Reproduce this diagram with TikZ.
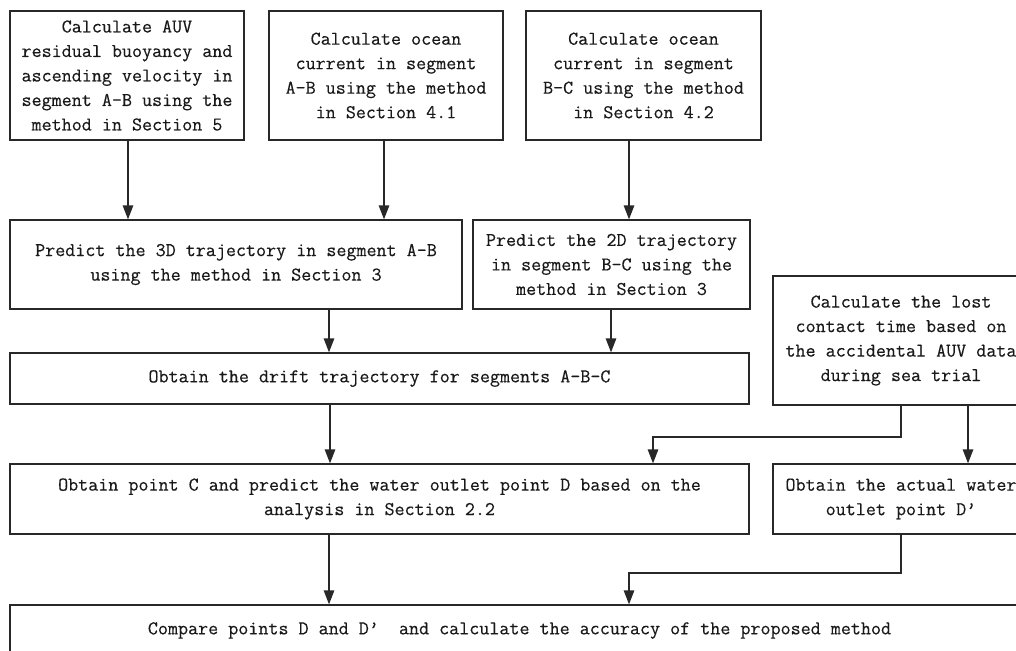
\documentclass[tikz,border=0pt]{standalone}
\usepackage{fontspec}
\setmonofont{Latin Modern Mono}[FakeBold=0.4]
\usetikzlibrary{arrows.meta,calc}
\definecolor{ln}{RGB}{40,40,40}
\definecolor{tx}{RGB}{25,25,25}
\begin{document}
\begin{tikzpicture}[x=1pt,y=-1pt,
  box/.style={draw=ln,line width=1.3pt,inner sep=0pt,align=center,text=tx,
    font=\ttfamily\fontsize{19.5}{24.5}\selectfont},
  arr/.style={draw=ln,line width=1.3pt,-{Triangle[length=14pt,width=10.5pt]}}]
\useasboundingbox (0,0) rectangle (1016,650);
\clip (0,0) rectangle (1016,650);
\node[box,minimum width=234pt,minimum height=129pt] (b1) at (127,75.5)
  {Calculate AUV\\residual buoyancy and\\ascending velocity in\\segment A-B using the\\method in Section 5};
\node[box,minimum width=234pt,minimum height=129pt] (b2) at (386,75.5)
  {Calculate ocean\\current in segment\\A-B using the method\\in Section 4.1};
\node[box,minimum width=235pt,minimum height=129pt] (b3) at (643.5,75.5)
  {Calculate ocean\\current in segment\\B-C using the method\\in Section 4.2};
\node[box,minimum width=452pt,minimum height=89pt] (b4) at (236,264.5)
  {Predict the 3D trajectory in segment A-B\\using the method in Section 3};
\node[box,minimum width=277pt,minimum height=89pt] (b5) at (611.5,264.5)
  {Predict the 2D trajectory\\in segment B-C using the\\method in Section 3};
\node[box,minimum width=256pt,minimum height=129pt] (b6) at (901,340.5)
  {Calculate the lost\\contact time based on\\the accidental AUV data\\during sea trial};
\node[box,minimum width=739pt,minimum height=51pt] (b7) at (379.5,378.5)
  {Obtain the drift trajectory for segments A-B-C};
\node[box,minimum width=739pt,minimum height=70pt] (b8) at (379.5,499)
  {Obtain point C and predict the water outlet point D based on the\\analysis in Section 2.2};
\node[box,minimum width=256pt,minimum height=70pt] (b9) at (901,499)
  {Obtain the actual water\\outlet point D’};
\node[box,minimum width=1019pt,minimum height=51pt] (b10) at (519.5,630.5)
  {Compare points D and D’\ \ and calculate the accuracy of the proposed method};
\coordinate (x128) at (128,0);
\coordinate (x384) at (384,0);
\coordinate (x629) at (629,0);
\coordinate (x611) at (611,0);
\coordinate (x329) at (329,0);
\coordinate (x330) at (330,0);
\coordinate (x653) at (653,0);
\coordinate (x901) at (901,0);
\coordinate (x968) at (968,0);
\coordinate (y437) at (0,437);
\coordinate (y573) at (0,573);
\draw[arr] (b1.south -| x128) -- (b4.north -| x128);
\draw[arr] (b2.south -| x384) -- (b4.north -| x384);
\draw[arr] (b3.south -| x629) -- (b5.north -| x629);
\draw[arr] (b4.south -| x329) -- (b7.north -| x329);
\draw[arr] (b5.south -| x611) -- (b7.north -| x611);
\draw[arr] (b7.south -| x330) -- (b8.north -| x330);
\draw[arr] (b6.south -| x901) -- (x901 |- y437) -- (x653 |- y437) -- (b8.north -| x653);
\draw[arr] (b6.south -| x968) -- (b9.north -| x968);
\draw[arr] (b8.south -| x329) -- (b10.north -| x329);
\draw[arr] (b9.south -| x901) -- (x901 |- y573) -- (x629 |- y573) -- (b10.north -| x629);
\end{tikzpicture}
\end{document}
